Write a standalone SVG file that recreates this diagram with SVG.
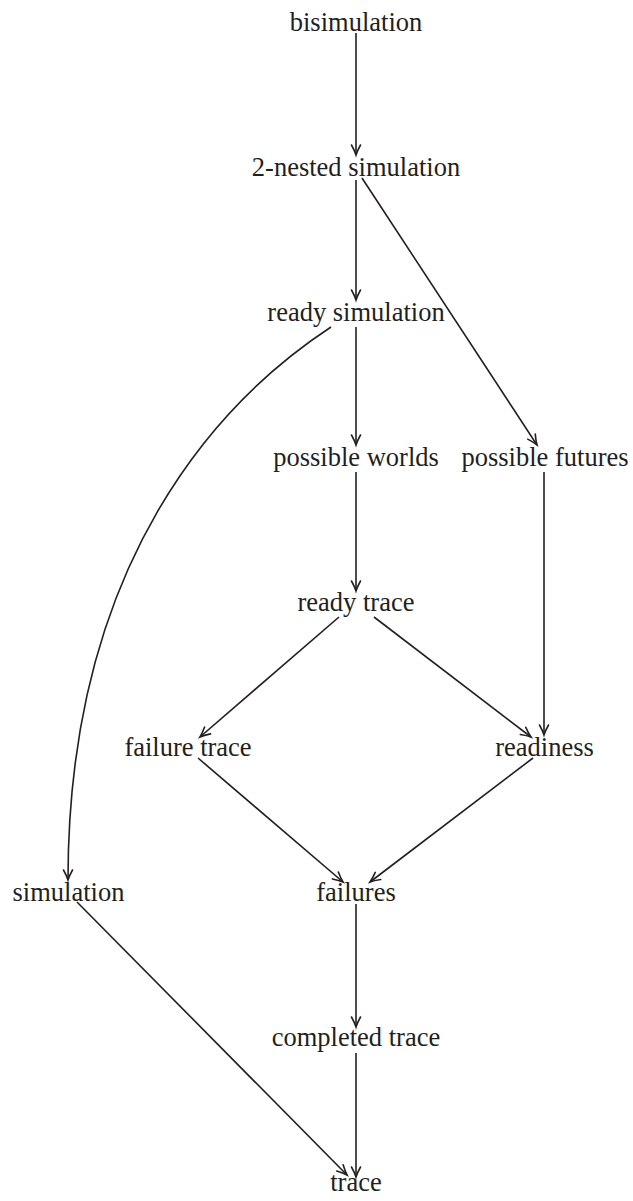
<svg xmlns="http://www.w3.org/2000/svg" width="633" height="1201" viewBox="0 0 633 1201">
<style>
text{font-family:"Liberation Serif","Times New Roman",serif;font-size:26.5px;fill:#231f20;text-anchor:middle}
.e{fill:none;stroke:#231f20;stroke-width:1.6}
</style>
<defs>
<marker id="a" markerUnits="userSpaceOnUse" markerWidth="16" markerHeight="16" viewBox="-12 -8 14 16" refX="0" refY="0" orient="auto" overflow="visible">
<path d="M-10 -4.5 Q-4 -1.2 0 0 Q-4 1.2 -10 4.5" fill="none" stroke="#231f20" stroke-width="1.6" stroke-linecap="round"/>
</marker>
</defs>
<rect width="633" height="1201" fill="#fff"/>
<g id="connectors" class="conn">
<path class="e" d="M356 33 L356 155" marker-end="url(#a)"/>
<path class="e" d="M356 180 L356 300" marker-end="url(#a)"/>
<path class="e" d="M362 178 L537 445" marker-end="url(#a)"/>
<path class="e" d="M356 327 L356 445" marker-end="url(#a)"/>
<path class="e" d="M331 327 C220 400 68 560 68 880" marker-end="url(#a)"/>
<path class="e" d="M356 472 L356 591" marker-end="url(#a)"/>
<path class="e" d="M544 472 L544 735" marker-end="url(#a)"/>
<path class="e" d="M339 617 L200 737" marker-end="url(#a)"/>
<path class="e" d="M374 617 L531 737" marker-end="url(#a)"/>
<path class="e" d="M198 758 L343 882" marker-end="url(#a)"/>
<path class="e" d="M533 758 L370 882" marker-end="url(#a)"/>
<path class="e" d="M356 904 L356 1027" marker-end="url(#a)"/>
<path class="e" d="M77 902 L347 1175" marker-end="url(#a)"/>
<path class="e" d="M356 1053 L356 1177" marker-end="url(#a)"/>
</g>
<g id="n-bisimulation"><text x="356" y="31">bisimulation</text></g>
<g id="n-2nested"><text x="356" y="176">2-nested simulation</text></g>
<g id="n-readysim"><text x="356" y="321">ready simulation</text></g>
<g id="n-possibleworlds"><text x="356" y="466">possible worlds</text></g>
<g id="n-possiblefutures"><text x="545" y="466">possible futures</text></g>
<g id="n-readytrace"><text x="356" y="611">ready trace</text></g>
<g id="n-failuretrace"><text x="188" y="756">failure trace</text></g>
<g id="n-readiness"><text x="544.5" y="756">readiness</text></g>
<g id="n-simulation"><text x="68.5" y="901">simulation</text></g>
<g id="n-failures"><text x="356" y="901">failures</text></g>
<g id="n-completedtrace"><text x="356" y="1046">completed trace</text></g>
<g id="n-trace"><text x="356" y="1191">trace</text></g>
</svg>
